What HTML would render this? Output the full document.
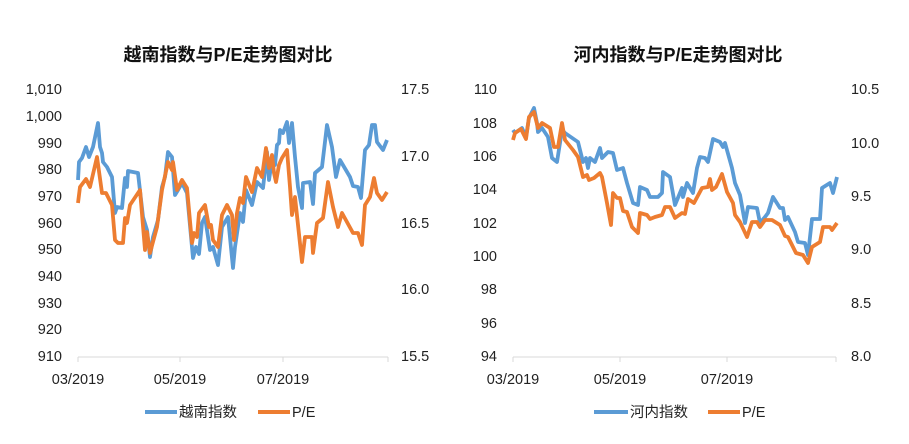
<!DOCTYPE html>
<html><head><meta charset="utf-8"><style>
body{margin:0;background:#fff;}
svg{display:block;font-family:"Liberation Sans","Noto Sans CJK SC",sans-serif;}
.t{font-size:14.5px;fill:#222;}
.ti{font-size:18px;font-weight:bold;fill:#111;}
.b{fill:none;stroke:#5b9bd5;stroke-width:3.8;stroke-linejoin:round;}
.o{fill:none;stroke:#ed7d31;stroke-width:3.8;stroke-linejoin:round;}
</style></head><body>
<svg width="909" height="444" viewBox="0 0 909 444">
<rect width="909" height="444" fill="#fff"/>
<text class="ti" x="228" y="61" text-anchor="middle">越南指数与P/E走势图对比</text>
<text class="ti" x="678" y="61" text-anchor="middle">河内指数与P/E走势图对比</text>
<g class="t" text-anchor="end">
<text x="62" y="94">1,010</text><text x="62" y="121">1,000</text><text x="62" y="148">990</text><text x="62" y="174">980</text><text x="62" y="201">970</text><text x="62" y="228">960</text><text x="62" y="254">950</text><text x="62" y="281">940</text><text x="62" y="308">930</text><text x="62" y="334">920</text><text x="62" y="361">910</text>
</g>
<g class="t">
<text x="401" y="94">17.5</text><text x="401" y="161">17.0</text><text x="401" y="228">16.5</text><text x="401" y="294">16.0</text><text x="401" y="361">15.5</text>
</g>
<line x1="78" y1="357" x2="388" y2="357" stroke="#d9d9d9"/>
<g stroke="#d9d9d9"><line x1="78" y1="357" x2="78" y2="362"/><line x1="180" y1="357" x2="180" y2="362"/><line x1="283" y1="357" x2="283" y2="362"/><line x1="388" y1="357" x2="388" y2="362"/></g>
<g class="t" text-anchor="middle"><text x="78" y="384">03/2019</text><text x="180" y="384">05/2019</text><text x="283" y="384">07/2019</text></g>
<polyline class="b" points="78,180 79,162 82,158 86,147 89,157 93,147 98,123 100,147 102,153 103,162 107,167 112,177 115,213 117,207 122,208 125,178 127,187 128,171 138,173 143,217 147,230 150,257 153,237 158,220 162,187 165,177 168,152 172,157 175,195 178,190 182,183 187,193 193,258 196,247 199,254 202,223 205,217 210,250 213,247 218,265 222,227 228,217 233,268 235,247 240,213 243,222 246,190 252,205 257,182 263,188 267,152 269,180 272,160 275,165 277,145 279,143 280,130 283,133 287,122 289,143 292,123 295,157 298,187 302,208 303,183 310,182 313,204 315,173 322,167 327,125 332,147 336,177 340,160 350,177 353,186 358,187 361,198 365,150 369,145 372,125 375,125 377,142 383,150 387,140"/>
<polyline class="o" points="78,203 80,187 86,179 90,187 97,157 102,193 106,193 112,205 115,240 118,243 123,243 125,218 127,223 130,205 140,190 145,250 147,232 150,253 157,227 162,190 168,162 172,170 173,162 177,190 182,180 187,188 192,243 194,233 197,237 199,213 205,205 209,227 211,225 213,240 218,247 222,215 227,205 232,215 234,240 237,213 240,198 243,203 246,177 252,192 257,168 262,177 266,148 269,168 272,155 274,173 276,182 279,165 282,158 287,150 290,187 292,215 295,197 302,262 305,237 312,237 313,253 317,223 323,218 328,182 333,207 338,227 342,213 353,233 358,233 362,245 365,205 370,197 374,178 377,193 382,200 387,192"/>
<line x1="145" y1="412" x2="177" y2="412" stroke="#5b9bd5" stroke-width="4"/>
<text class="t" x="179" y="417">越南指数</text>
<line x1="258" y1="412" x2="290" y2="412" stroke="#ed7d31" stroke-width="4"/>
<text class="t" x="292" y="417">P/E</text>
<g class="t" text-anchor="end">
<text x="497" y="94">110</text><text x="497" y="128">108</text><text x="497" y="161">106</text><text x="497" y="194">104</text><text x="497" y="228">102</text><text x="497" y="261">100</text><text x="497" y="294">98</text><text x="497" y="328">96</text><text x="497" y="361">94</text>
</g>
<g class="t">
<text x="851" y="94">10.5</text><text x="851" y="148">10.0</text><text x="851" y="201">9.5</text><text x="851" y="254">9.0</text><text x="851" y="308">8.5</text><text x="851" y="361">8.0</text>
</g>
<line x1="513" y1="357" x2="836" y2="357" stroke="#d9d9d9"/>
<g stroke="#d9d9d9"><line x1="513" y1="357" x2="513" y2="362"/><line x1="620" y1="357" x2="620" y2="362"/><line x1="727" y1="357" x2="727" y2="362"/><line x1="836" y1="357" x2="836" y2="362"/></g>
<g class="t" text-anchor="middle"><text x="513" y="384">03/2019</text><text x="620" y="384">05/2019</text><text x="727" y="384">07/2019</text></g>
<polyline class="b" points="513,130 515,133 522,128 526,137 529,118 534,108 537,123 538,132 542,128 548,137 552,158 557,162 562,130 565,133 578,142 583,162 586,158 588,168 590,158 595,162 600,148 602,158 608,152 613,153 617,170 623,168 627,183 633,203 638,205 640,187 647,190 650,197 658,197 662,193 663,172 670,177 675,205 682,188 683,197 687,183 693,193 697,168 700,157 705,158 708,162 713,139 720,142 723,147 725,143 732,168 735,183 740,195 745,223 748,207 757,208 760,223 765,217 768,213 773,197 780,208 783,208 785,220 788,217 795,232 798,242 805,243 808,255 812,219 820,219 822,188 830,183 833,193 837,177"/>
<polyline class="o" points="513,140 515,133 521,129 526,139 529,117 534,112 538,128 542,123 550,128 554,147 558,147 562,123 565,140 573,150 578,157 583,177 587,175 589,180 594,178 600,173 602,177 607,203 611,225 613,193 617,198 620,198 623,211 627,212 632,227 638,233 640,213 647,215 650,219 655,217 662,215 665,207 670,207 675,218 682,213 685,214 688,199 694,203 702,188 708,187 710,179 712,190 716,187 722,174 727,192 733,203 735,215 740,222 747,237 752,222 757,222 760,227 765,220 772,220 780,225 785,236 788,237 796,253 803,255 808,263 812,247 820,242 823,227 830,227 832,230 837,223"/>
<line x1="594" y1="412" x2="628" y2="412" stroke="#5b9bd5" stroke-width="4"/>
<text class="t" x="630" y="417">河内指数</text>
<line x1="708" y1="412" x2="740" y2="412" stroke="#ed7d31" stroke-width="4"/>
<text class="t" x="742" y="417">P/E</text>
</svg>
</body></html>
